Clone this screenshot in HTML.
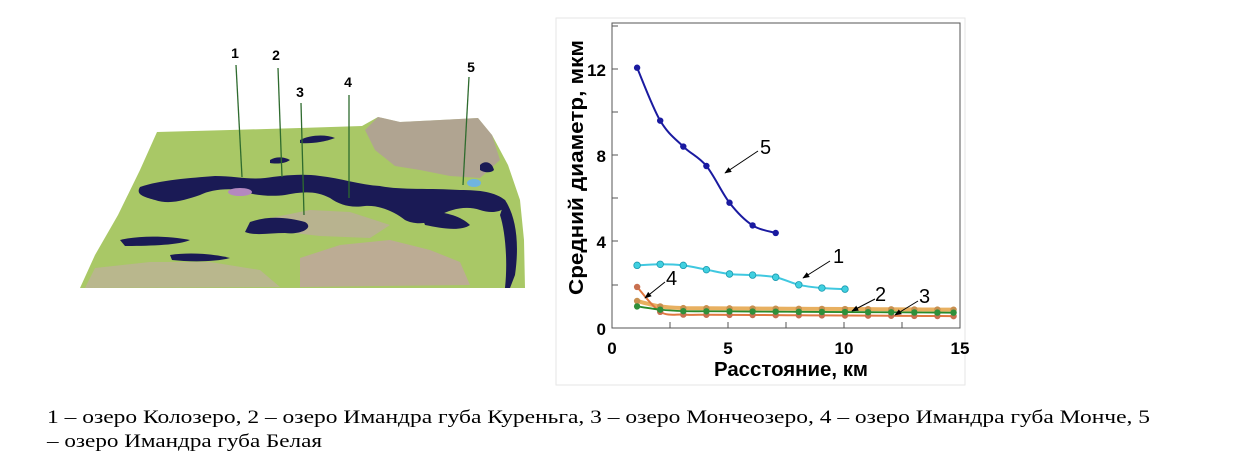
<!DOCTYPE html>
<html><head><meta charset="utf-8"><style>
html,body{margin:0;padding:0;background:#fff;width:1241px;height:475px;overflow:hidden}
svg{display:block}
</style></head><body>
<svg id="s" width="1241" height="475" viewBox="0 0 1241 475" xmlns="http://www.w3.org/2000/svg">
<defs>
<marker id="ah" viewBox="0 0 10 10" refX="9" refY="5" markerWidth="7" markerHeight="7" orient="auto"><path d="M0,1 L10,5 L0,9 z" fill="#000"/></marker>
</defs>
<!-- MAP -->
<g>
<polygon points="157,132 230,130 300,128 362,126 378,117 400,122 440,120 478,118 492,135 508,165 520,200 524,240 525,288 80,288 95,255 118,215 140,170" fill="#a9c866"/>
<polygon points="365,130 378,117 400,122 440,120 478,118 492,135 500,160 480,178 450,176 420,170 395,166 375,150" fill="#b58cae" opacity="0.6"/>
<polygon points="300,258 340,245 390,240 430,250 460,262 470,285 300,287" fill="#c99ab3" opacity="0.6"/>
<polygon points="95,268 150,262 210,262 260,270 280,287 85,288" fill="#c9a6b3" opacity="0.5"/>
<polygon points="270,218 310,210 350,212 390,225 370,238 320,236 285,232" fill="#c79db8" opacity="0.5"/>
<g fill="#1a1a55">
<path d="M140,187 C160,180 190,178 215,176 C235,176 250,180 265,178 C280,176 300,173 320,176 C340,178 360,185 380,186 C400,190 430,188 460,190 C480,190 495,192 505,200 C510,210 495,215 480,210 C465,205 450,210 440,215 C430,225 415,225 405,220 C395,212 380,205 365,206 C350,208 340,205 330,198 C315,190 300,192 285,195 C270,197 250,195 240,190 C225,188 210,190 200,195 C185,200 170,205 155,200 C145,197 135,195 140,187 Z"/>
<path d="M250,222 C270,215 290,218 305,222 C315,228 300,235 285,233 C270,233 255,236 245,232 Z"/>
<path d="M420,212 C440,210 460,215 470,225 C460,232 440,228 425,225 Z"/>
<path d="M505,200 C515,215 520,240 515,275 L510,288 L505,288 C508,260 505,230 500,215 Z"/>
<path d="M120,240 C140,235 170,236 190,240 C180,245 150,246 125,246 Z"/>
<path d="M170,255 C190,252 215,254 230,258 C215,262 190,262 172,260 Z"/>
<path d="M300,140 C310,135 325,134 335,138 C325,142 310,144 300,143 Z"/>
<path d="M270,160 C276,156 285,157 290,160 C285,164 275,164 270,163 Z"/>
<path d="M480,165 C485,160 492,162 494,170 C490,174 483,172 480,170 Z"/>
</g>
<ellipse cx="474" cy="183" rx="7" ry="4" fill="#6fb4e0"/>
<ellipse cx="240" cy="192" rx="12" ry="4" fill="#b488c0"/>
</g>
<g stroke="#2e6b2e" stroke-width="1.3">
<line x1="236" y1="65" x2="242" y2="177"/>
<line x1="278" y1="68" x2="282" y2="177"/>
<line x1="301" y1="103" x2="304" y2="215"/>
<line x1="349" y1="95" x2="349" y2="198"/>
<line x1="469" y1="77" x2="463" y2="185"/>
</g>
<g font-family="Liberation Sans, sans-serif" font-weight="bold" font-size="14" fill="#000" text-anchor="middle">
<text x="235" y="58">1</text><text x="276" y="60">2</text><text x="300" y="97">3</text><text x="348" y="87">4</text><text x="471" y="72">5</text>
</g>
<!-- CHART -->
<rect x="556" y="18" width="409" height="367" fill="none" stroke="#e6e6e6"/>
<rect x="612" y="23" width="348" height="305" fill="none" stroke="#555" stroke-width="1"/>
<g stroke="#555" stroke-width="1">
<line x1="612" y1="285" x2="618" y2="285"/><line x1="612" y1="241" x2="618" y2="241"/><line x1="612" y1="198" x2="618" y2="198"/><line x1="612" y1="155" x2="618" y2="155"/><line x1="612" y1="112" x2="618" y2="112"/><line x1="612" y1="69" x2="618" y2="69"/><line x1="612" y1="26" x2="618" y2="26"/>
<line x1="670" y1="328" x2="670" y2="322"/><line x1="728" y1="328" x2="728" y2="322"/><line x1="786" y1="328" x2="786" y2="322"/><line x1="844" y1="328" x2="844" y2="322"/><line x1="902" y1="328" x2="902" y2="322"/>
</g>
<g font-family="Liberation Sans, sans-serif" font-weight="bold" font-size="17" fill="#000">
<g text-anchor="end"><text x="606" y="335">0</text><text x="606" y="248">4</text><text x="606" y="162">8</text><text x="606" y="76">12</text></g>
<g text-anchor="middle"><text x="612" y="354">0</text><text x="728" y="354">5</text><text x="844" y="354">10</text><text x="960" y="354">15</text></g>
<text x="714" y="376" font-size="20" textLength="154" lengthAdjust="spacingAndGlyphs">Расстояние, км</text>
<text transform="translate(583,295) rotate(-90)" font-size="20" textLength="255" lengthAdjust="spacingAndGlyphs">Средний диаметр, мкм</text>
</g>
<g id="series"></g>
<g font-family="Liberation Sans, sans-serif" font-size="20" fill="#000">
<text x="760" y="154">5</text><text x="833" y="263">1</text><text x="875" y="301">2</text><text x="919" y="303">3</text><text x="666" y="285">4</text>
</g>
<g stroke="#000" stroke-width="1" marker-end="url(#ah)">
<line x1="758" y1="151" x2="725" y2="173"/>
<line x1="830" y1="261" x2="803" y2="278"/>
<line x1="875" y1="299" x2="852" y2="311"/>
<line x1="918" y1="301" x2="895" y2="315"/>
<line x1="665" y1="282" x2="645" y2="298"/>
</g>
<!-- caption -->
<g font-family="Liberation Serif, serif" font-size="19" fill="#000">
<text x="47" y="423" textLength="1103" lengthAdjust="spacingAndGlyphs">1 – озеро Колозеро, 2 – озеро Имандра губа Куреньга, 3 – озеро Мончеозеро, 4 – озеро Имандра губа Монче, 5</text>
<text x="47" y="447" textLength="275" lengthAdjust="spacingAndGlyphs">– озеро Имандра губа Белая</text>
</g>
</svg>
<script>
var X=function(v){return 614+v*23.1},Y=function(v){return 328-v*21.6};
function path(p){var s="M"+p[0][0]+","+p[0][1];for(var i=0;i<p.length-1;i++){var a=p[i-1]||p[i],b=p[i],c=p[i+1],d=p[i+2]||c;s+=" C"+(b[0]+(c[0]-a[0])/6)+","+(b[1]+(c[1]-a[1])/6)+" "+(c[0]-(d[0]-b[0])/6)+","+(c[1]-(d[1]-b[1])/6)+" "+c[0]+","+c[1];}return s;}
var flat=function(y1,y2,yr){var r=[[1,y1]];for(var i=2;i<=14;i++)r.push([i,i==2?y2:yr-(i-3)*0.006]);r.push([14.7,yr-0.07]);return r;};
var S=[
{c:"#e8b060",m:"#c89050",d:flat(1.25,1.0,0.92),w:4},
{c:"#e07840",m:"#c87050",d:flat(1.9,0.75,0.62),w:2},
{c:"#2a8a2a",m:"#2f8f3a",d:flat(1.0,0.85,0.78),w:1.8},
{c:"#40c8e0",m:"#40d0e0",d:[[1,2.9],[2,2.95],[3,2.9],[4,2.7],[5,2.5],[6,2.45],[7,2.35],[8,2.0],[9,1.85],[10,1.8]],w:2,o:1},
{c:"#1a1aa0",m:"#1a1aa0",d:[[1,12.05],[2,9.6],[3,8.4],[4,7.5],[5,5.8],[6,4.75],[7,4.4]],w:2}
];
var g=document.getElementById("series"),h="";
S.forEach(function(s){var p=s.d.map(function(q){return[X(q[0]),Y(q[1])]});
h+='<path d="'+path(p)+'" fill="none" stroke="'+s.c+'" stroke-width="'+s.w+'"/>';
p.forEach(function(q){h+='<circle cx="'+q[0]+'" cy="'+q[1]+'" r="'+(s.o?3.3:3.2)+'" fill="'+s.m+'" stroke="'+(s.o?"#1a9ab0":"none")+'" stroke-width="0.8"/>';});});
g.innerHTML=h;
</script>
</body></html>
